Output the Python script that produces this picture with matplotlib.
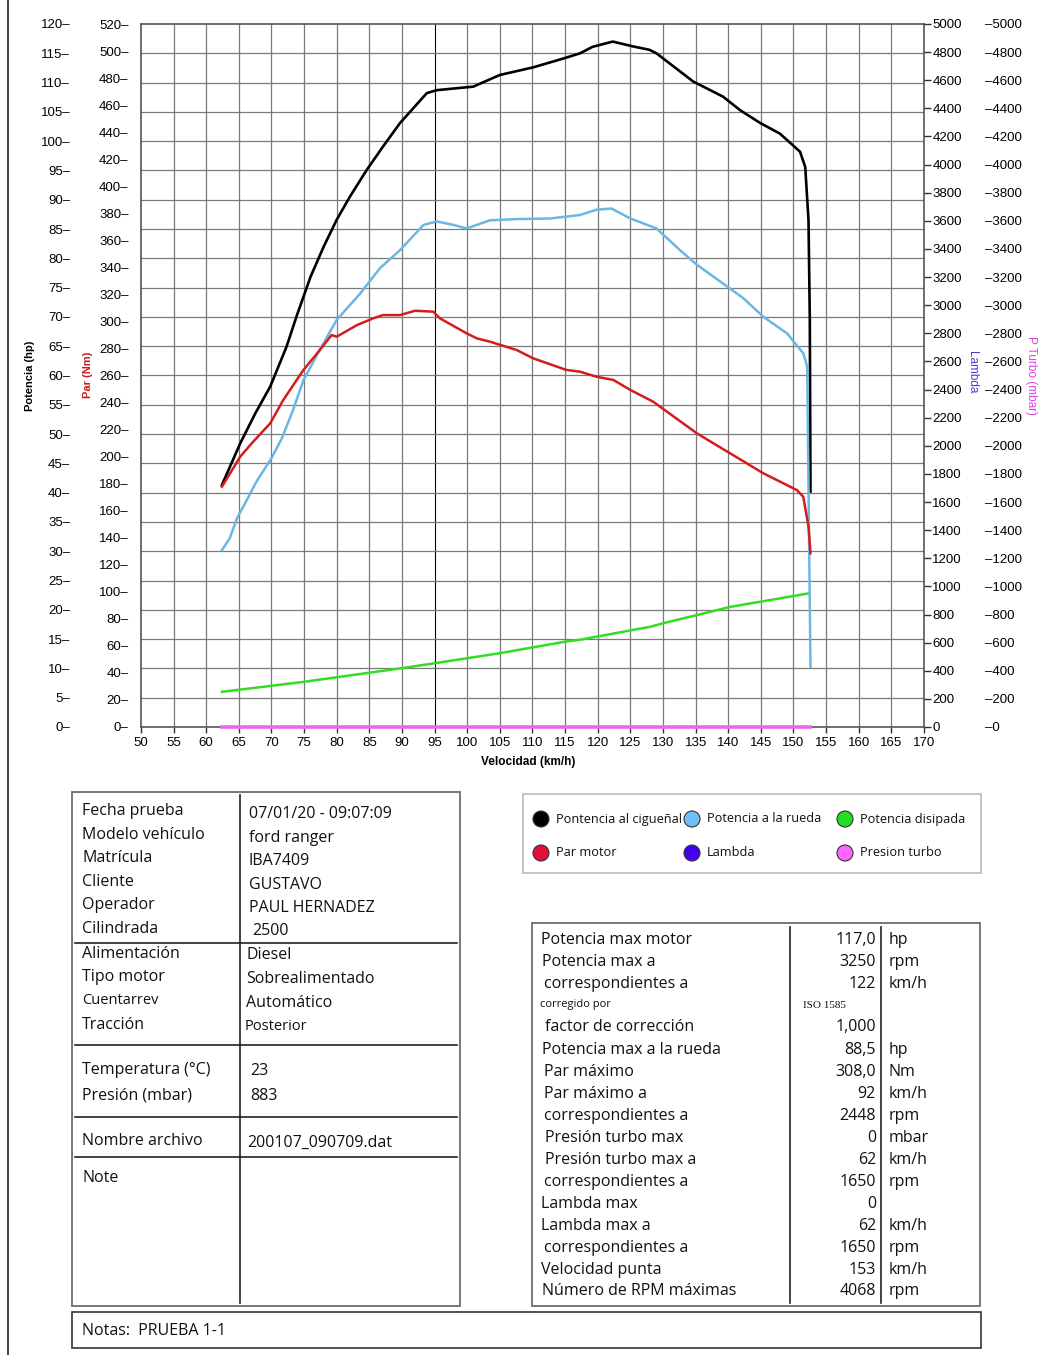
import numpy as np
import matplotlib
matplotlib.use("Agg")
import matplotlib.pyplot as plt
from matplotlib.lines import Line2D
from matplotlib.patches import Rectangle, Circle

# ---- curve data ----
black_kmh = [62.4, 65.2, 67.5, 69.8, 72.3, 73.9, 76.0, 78.0, 80.0, 82.0, 84.6, 87.1, 89.7, 93.8, 95.3,
             99.9, 100.9, 105.0, 110.1, 114.7, 117.3, 119.2, 122.3, 125.3, 127.9, 129.0, 134.6,
             139.2, 141.8, 144.9, 147.9, 151.0, 151.8, 152.3, 152.5, 152.6]
black_hp = [41.3, 48.4, 53.5, 58.1, 64.9, 70.3, 76.9, 82.0, 86.6, 90.5, 95.1, 99.1, 103.1, 108.2, 108.7,
            109.2, 109.3, 111.3, 112.6, 114.1, 115.0, 116.1, 117.0, 116.2, 115.6, 115.0, 110.2,
            107.6, 105.3, 103.1, 101.3, 98.2, 95.6, 86.5, 69.5, 40.2]

red_kmh = [62.4, 65.2, 67.0, 69.8, 71.8, 74.9, 77.4, 79.2, 80.0, 83.1, 85.6, 87.1, 89.7, 92.0,
           94.8, 95.8, 99.9, 101.5, 103.5, 107.6, 110.1, 115.2, 117.3, 119.8, 122.4, 125.0,
           128.5, 135.2, 140.3, 145.4, 150.5, 151.5, 152.3, 152.6]
red_nm = [177.7, 199.9, 210.0, 224.6, 241.9, 264.1, 278.8, 289.9, 288.7, 297.3, 302.3, 304.7,
          304.7, 307.9, 307.2, 302.3, 291.2, 287.4, 285.0, 278.8, 272.7, 264.1, 262.8, 259.1,
          256.7, 249.3, 240.6, 217.2, 202.4, 187.6, 175.3, 170.3, 148.2, 128.5]

blue_kmh = [62.4, 63.6, 64.7, 66.2, 67.7, 70.0, 71.6, 73.3, 74.9, 77.4, 80.0, 83.6, 86.6, 89.7,
            93.3, 95.3, 97.9, 99.9, 103.5, 107.6, 112.7, 117.3, 119.8, 122.1, 125.0, 129.0,
            132.6, 135.2, 139.2, 142.3, 145.4, 149.0, 151.5, 152.1, 152.6]
blue_hp = [30.2, 32.2, 35.6, 38.7, 41.9, 45.9, 49.3, 54.1, 59.2, 64.4, 69.5, 74.0, 78.3, 81.4,
           85.7, 86.3, 85.7, 85.1, 86.5, 86.7, 86.8, 87.4, 88.3, 88.5, 86.8, 85.1,
           81.4, 78.9, 75.7, 73.2, 70.0, 67.2, 63.8, 61.5, 10.3]

green_kmh = [62.4, 74.9, 89.7, 95.1, 105.0, 115.2, 117.3, 128.0, 130.0, 140.3, 152.3]
green_hp = [6.0, 7.7, 10.0, 10.9, 12.6, 14.6, 14.9, 17.1, 17.7, 20.5, 22.8]

turbo_kmh = [62.4, 152.6]
turbo_mbar = [0, 0]

# ---- table texts ----
info_labels = ["Fecha prueba", "Modelo vehículo", "Matrícula", "Cliente", "Operador", "Cilindrada",
               "Alimentación", "Tipo motor", "Cuentarrev", "Tracción",
               "Temperatura (°C)", "Presión (mbar)", "Nombre archivo", "Note"]
info_values = ["07/01/20 - 09:07:09", "ford ranger", "IBA7409", "GUSTAVO", "PAUL HERNADEZ", "2500",
               "Diesel", "Sobrealimentado", "Automático", "Posterior",
               "23", "883", "200107_090709.dat", ""]

res_labels = ["Potencia max motor", "Potencia max a", "correspondientes a", "corregido por",
              "factor de corrección", "Potencia max a la rueda", "Par máximo", "Par máximo a",
              "correspondientes a", "Presión turbo max", "Presión turbo max a", "correspondientes a",
              "Lambda max", "Lambda max a", "correspondientes a", "Velocidad punta",
              "Número de RPM máximas"]
res_values = ["117,0", "3250", "122", "ISO 1585", "1,000", "88,5", "308,0", "92", "2448", "0",
              "62", "1650", "0", "62", "1650", "153", "4068"]
res_units = ["hp", "rpm", "km/h", "", "", "hp", "Nm", "km/h", "rpm", "mbar", "km/h", "rpm",
             "", "km/h", "rpm", "km/h", "rpm"]

legend_names = ["Pontencia al cigueñal", "Potencia a la rueda", "Potencia disipada",
                "Par motor", "Lambda", "Presion turbo"]
legend_colors = ["#000000", "#6ec0f5", "#22dd22", "#e0103a", "#4400ee", "#ff66ff"]

W, H = 1051, 1355
fig = plt.figure(figsize=(W / 100, H / 100), dpi=100)
tick_font = "Liberation Sans"
txt_font = "Open Sans"
fs_tab = 11.5

# ---- main chart ----
ax = fig.add_axes([141 / W, 1 - 727 / H, 783 / W, 703 / H])
ax.set_xlim(50, 170)
ax.set_ylim(0, 120)
ax.set_xticks(np.arange(50, 171, 5))
ax.set_xticklabels([str(v) for v in range(50, 171, 5)], fontsize=9.5, family=tick_font)
ax.tick_params(axis="x", length=4, width=1, pad=3, color="#333")
ax.set_yticks(np.arange(0, 121, 5))
ax.set_yticklabels(["%d\u2013" % v for v in range(0, 121, 5)], fontsize=9.5, family=tick_font)
ax.tick_params(axis="y", length=0, pad=51)
for v in range(55, 170, 5):
    ax.axvline(v, color="#000" if v == 95 else "#7a7a7a", lw=0.8 if v == 95 else 0.9, zorder=0)
for v in range(5, 120, 5):
    ax.axhline(v, color="#7a7a7a", lw=0.9, zorder=0)
for s in ["top", "right", "left", "bottom"]:
    ax.spines[s].set_color("#555")
    ax.spines[s].set_linewidth(1.2)

axn = ax.twinx()
axn.yaxis.tick_left()
axn.set_ylim(0, 520)
axn.set_yticks(np.arange(0, 521, 20))
axn.set_yticklabels(["%d\u2013" % v for v in range(0, 521, 20)], fontsize=9.5, family=tick_font)
axn.tick_params(axis="y", length=0, pad=9)

axl = ax.twinx()
axl.set_ylim(0, 5000)
axl.set_yticks(np.arange(0, 5001, 200))
axl.set_yticklabels([str(v) for v in range(0, 5001, 200)], fontsize=9.5, family=tick_font)
axl.tick_params(axis="y", length=5, width=1, pad=1, color="#333")

axp = ax.twinx()
axp.set_ylim(0, 5000)
axp.set_yticks(np.arange(0, 5001, 200))
axp.set_yticklabels(["\u2013%d" % v for v in range(0, 5001, 200)], fontsize=9.5, family=tick_font)
axp.tick_params(axis="y", length=0, pad=44)
for a in (axn, axl, axp):
    for s in a.spines.values():
        s.set_visible(False)

ax.plot(black_kmh, black_hp, color="#000000", lw=1.9, zorder=3)
axn.plot(red_kmh, red_nm, color="#d41c1c", lw=1.8, zorder=3)
ax.plot(blue_kmh, blue_hp, color="#6cb6e4", lw=1.8, zorder=4)
ax.plot(green_kmh, green_hp, color="#33dd22", lw=1.8, zorder=3)
axp.plot(turbo_kmh, turbo_mbar, color="#ee66ee", lw=2.6, zorder=3, clip_on=False)

fig.text(30 / W, 1 - 376 / H, "Potencia (hp)", rotation=90, ha="center", va="center",
         fontsize=8, fontweight="bold", family=tick_font)
fig.text(88 / W, 1 - 375 / H, "Par (Nm)", rotation=90, ha="center", va="center",
         fontsize=8, fontweight="bold", family=tick_font, color="#d01818")
fig.text(972 / W, 1 - 372 / H, "Lambda", rotation=270, ha="center", va="center",
         fontsize=8.5, family=tick_font, color="#5038d0")
fig.text(1031 / W, 1 - 375 / H, "P Turbo (mbar)", rotation=270, ha="center", va="center",
         fontsize=8.5, family=tick_font, color="#e040e0")
fig.text(528 / W, 1 - 762 / H, "Velocidad (km/h)", ha="center", va="center",
         fontsize=8.5, fontweight="bold", family=tick_font)

# ---- overlay in pixel coordinates for the tables ----
ov = fig.add_axes([0, 0, 1, 1], zorder=-1)
ov.set_xlim(0, W)
ov.set_ylim(H, 0)
ov.axis("off")

ov.add_line(Line2D([8, 8], [0, H], color="#222", lw=1.2))

def box(x0, y0, x1, y1, color="#777", lw=1.4):
    ov.add_patch(Rectangle((x0, y0), x1 - x0, y1 - y0, fill=False, ec=color, lw=lw))

def hline(x0, x1, y, color="#222", lw=1.2):
    ov.add_line(Line2D([x0, x1], [y, y], color=color, lw=lw))

def vline(x, y0, y1, color="#222", lw=1.2):
    ov.add_line(Line2D([x, x], [y0, y1], color=color, lw=lw))

# left info table
box(72, 792, 460, 1306)
vline(240, 795, 1303)
for y in (943, 1045, 1117, 1157):
    hline(75, 457, y)
info_y = [811, 835, 858, 882, 905, 929, 954, 977, 1001, 1025, 1070, 1096, 1141, 1178]
val_y = [814, 838, 861, 885, 908, 931, 955, 979, 1003, 1027, 1071, 1096, 1143, 1178]
val_x = [249, 249, 249, 249, 249, 252, 246, 246, 246, 245, 250, 250, 247, 247]
for i, lab in enumerate(info_labels):
    fs = 10.5 if lab == "Cuentarrev" else fs_tab
    ov.text(82, info_y[i], lab, fontsize=fs, family=txt_font, va="center", ha="left", color="#111")
    fs = 10.5 if info_values[i] == "Posterior" else fs_tab
    ov.text(val_x[i], val_y[i], info_values[i], fontsize=fs, family=txt_font, va="center",
            ha="left", color="#111")

# legend box
box(523, 794, 981, 873, color="#bbb", lw=1.2)
leg_x = [541, 692, 845]
leg_y = [819, 853]
for i, name in enumerate(legend_names):
    cx = leg_x[i % 3]
    cy = leg_y[i // 3]
    ov.add_patch(Circle((cx, cy), 8, fc=legend_colors[i], ec="#333", lw=0.8))
    ov.text(cx + 15, cy, name, fontsize=9.2, family=txt_font, va="center", ha="left", color="#111")

# results table
box(532, 923, 980, 1306)
vline(790, 927, 1303)
vline(881, 927, 1303)
res_y = [940, 962, 984, 1005, 1027, 1050, 1072, 1094, 1116, 1138, 1160, 1182, 1204, 1226, 1248, 1270, 1291]
res_x = [541, 542, 544, 540, 545, 542, 544, 544, 544, 545, 545, 544, 541, 541, 544, 541, 542]
for i, lab in enumerate(res_labels):
    small = lab == "corregido por"
    ov.text(res_x[i], res_y[i], lab, fontsize=8 if small else fs_tab, family=txt_font,
            va="center", ha="left", color="#111")
    if res_values[i] == "ISO 1585":
        ov.text(803, res_y[i], res_values[i], fontsize=8, family="Liberation Serif",
                va="center", ha="left", color="#111")
    else:
        ov.text(876, res_y[i], res_values[i], fontsize=fs_tab, family=txt_font,
                va="center", ha="right", color="#111")
    ov.text(889, res_y[i], res_units[i], fontsize=fs_tab, family=txt_font,
            va="center", ha="left", color="#111")

# notes box
box(72, 1312, 981, 1348, color="#333", lw=1.2)
ov.text(82, 1331, "Notas:  PRUEBA 1-1", fontsize=fs_tab, family=txt_font, va="center",
        ha="left", color="#111")

fig.savefig("out.png", dpi=100, facecolor="white")
